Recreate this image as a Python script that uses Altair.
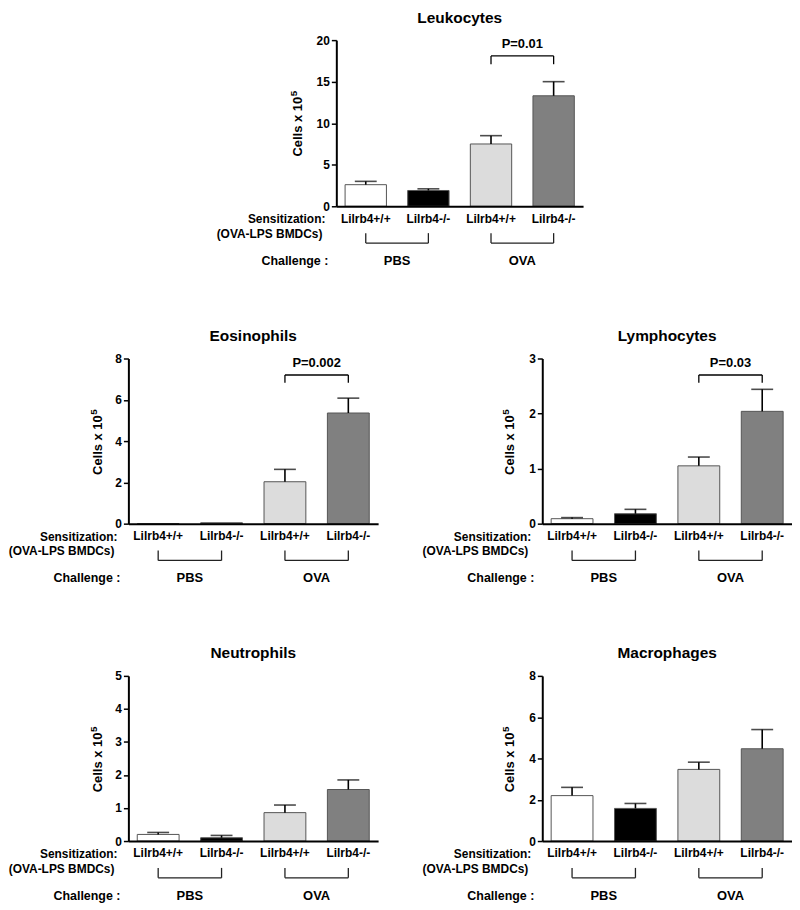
import altair as alt
import pandas as pd

FONT = "Liberation Sans"

# ---- data ----
challenges = ["PBS", "PBS", "OVA", "OVA"]
genotypes = ["Lilrb4+/+", "Lilrb4-/-", "Lilrb4+/+", "Lilrb4-/-"]
groups = [c + " " + g for c, g in zip(challenges, genotypes)]
fills = ["#ffffff", "#000000", "#dcdcdc", "#808080"]
challenge_names = ["PBS", "OVA"]

leuk_mean = [2.6, 1.9, 7.5, 13.3]
leuk_sem = [0.4, 0.2, 1.0, 1.7]
eos_mean = [0.0, 0.04, 2.03, 5.36]
eos_sem = [0.0, 0.0, 0.6, 0.72]
lym_mean = [0.09, 0.18, 1.05, 2.04]
lym_sem = [0.02, 0.08, 0.16, 0.40]
neu_mean = [0.20, 0.10, 0.86, 1.56]
neu_sem = [0.06, 0.07, 0.23, 0.29]
mac_mean = [2.2, 1.58, 3.47, 4.47]
mac_sem = [0.4, 0.24, 0.35, 0.93]

leuk_ticks = [0, 5, 10, 15, 20]
eos_ticks = [0, 2, 4, 6, 8]
lym_ticks = [0, 1, 2, 3]
neu_ticks = [0, 1, 2, 3, 4, 5]
mac_ticks = [0, 2, 4, 6, 8]

# significance brackets: (bracket level, tick bottom, label)
leuk_sig = (18.1, 17.1, "P=0.01")
eos_sig = (7.2, 6.83, "P=0.002")
lym_sig = (2.7, 2.56, "P=0.03")


def panel(title, means, sems, ticks, width, height, ytitle_x, sig=None):
    n = len(groups)
    p_in, p_out = 0.34, 0.14
    step = width / (n - p_in + 2 * p_out)
    df = pd.DataFrame({"group": groups, "mean": means, "sem": sems, "fill": fills})
    df["top"] = df["mean"] + df["sem"]

    xscale = alt.Scale(domain=groups, paddingInner=p_in, paddingOuter=p_out)
    xaxis = alt.Axis(title=None, labelExpr="substring(datum.label, 4)", ticks=False,
                     domainWidth=2, domainColor="black", labelAngle=0, labelFont=FONT,
                     labelFontSize=12, labelFontWeight="bold", labelColor="black",
                     labelPadding=7, zindex=1)
    yscale = alt.Scale(domain=[ticks[0], ticks[-1]], nice=False)
    yaxis = alt.Axis(title=None, values=ticks, tickSize=5, tickWidth=1.5, tickColor="black",
                     domainWidth=2, domainColor="black", labelFont=FONT, labelFontSize=12,
                     labelFontWeight="bold", labelColor="black", labelPadding=2, grid=False,
                     zindex=1)

    def X(f):
        return alt.X(f, scale=xscale, axis=xaxis)

    def Y(f):
        return alt.Y(f, scale=yscale, axis=yaxis)

    base = alt.Chart(df)
    bars = base.mark_bar(stroke="#555555", strokeWidth=1).encode(
        x=X("group:N"), y=Y("mean:Q"), fill=alt.Fill("fill:N", scale=None))
    err = base.transform_filter("datum.sem > 0").mark_rule(color="black", strokeWidth=1.6).encode(
        x=X("group:N"), y=Y("mean:Q"), y2="top:Q")
    cap = base.transform_filter("datum.sem > 0").mark_tick(color="black", thickness=1.6, size=22).encode(
        x=X("group:N"), y=Y("top:Q"))

    layers = [bars, err, cap]

    one = pd.DataFrame({"k": [0]})
    layers.append(alt.Chart(one).mark_text(text="Sensitization:", align="right", baseline="middle",
                                          font=FONT, fontSize=12, fontWeight="bold", color="black")
                  .encode(x=alt.value(-11), y=alt.value(height + 13)))
    layers.append(alt.Chart(one).mark_text(text="(OVA-LPS BMDCs)", align="right", baseline="middle",
                                          font=FONT, fontSize=12, fontWeight="bold", color="black")
                  .encode(x=alt.value(-14), y=alt.value(height + 28)))
    layers.append(alt.Chart(one).mark_text(text="Challenge :", align="right", baseline="middle",
                                          font=FONT, fontSize=12.5, fontWeight="bold", color="black")
                  .encode(x=alt.value(-8), y=alt.value(height + 55)))

    ch_df = pd.DataFrame({"label": challenge_names, "start": [groups[0], groups[2]],
                          "end": [groups[1], groups[3]]})
    ends_df = pd.DataFrame({"g": groups})
    layers.append(alt.Chart(ch_df).mark_rule(color="#222222", strokeWidth=1.3).encode(
        x=X("start:N"), x2="end:N", y=alt.value(height + 37)))
    layers.append(alt.Chart(ends_df).mark_rule(color="#222222", strokeWidth=1.3).encode(
        x=X("g:N"), y=alt.value(height + 27), y2=alt.value(height + 37)))
    layers.append(alt.Chart(ch_df).mark_text(dx=step / 2, baseline="middle", font=FONT, fontSize=13,
                                            fontWeight="bold", color="black").encode(
        x=X("start:N"), y=alt.value(height + 55), text="label:N"))

    # y title with superscript
    layers.append(alt.Chart(one).mark_text(text="Cells x 10", angle=270, align="left", baseline="middle",
                                          font=FONT, fontSize=13, fontWeight="bold", color="black")
                  .encode(x=alt.value(ytitle_x), y=alt.value(117)))
    layers.append(alt.Chart(one).mark_text(text="5", angle=270, align="left", baseline="middle",
                                          dx=60.5, dy=-4, font=FONT, fontSize=10, fontWeight="bold",
                                          color="black")
                  .encode(x=alt.value(ytitle_x), y=alt.value(117)))

    if sig is not None:
        lvl, low, lab = sig
        sdf = pd.DataFrame({"start": [groups[2]], "end": [groups[3]], "y": [lvl], "label": [lab]})
        sends = pd.DataFrame({"g": [groups[2], groups[3]], "y": [lvl, lvl], "low": [low, low]})
        layers.append(alt.Chart(sdf).mark_rule(color="black", strokeWidth=1.3).encode(
            x=X("start:N"), x2="end:N", y=Y("y:Q")))
        layers.append(alt.Chart(sends).mark_rule(color="black", strokeWidth=1.3).encode(
            x=X("g:N"), y=Y("y:Q"), y2="low:Q"))
        layers.append(alt.Chart(sdf).mark_text(dx=step / 2, dy=-12, baseline="middle", font=FONT,
                                              fontSize=13, fontWeight="bold", color="black").encode(
            x=X("start:N"), y=Y("y:Q"), text="label:N"))

    return alt.layer(*layers).properties(
        width=width, height=height,
        title=alt.TitleParams(title, font=FONT, fontSize=15.5, fontWeight="bold", color="black",
                              offset=8, anchor="middle"))


leuk = panel("Leukocytes", leuk_mean, leuk_sem, leuk_ticks, 248, 167, -39, leuk_sig)
eos = panel("Eosinophils", eos_mean, eos_sem, eos_ticks, 251, 166, -31, eos_sig)
lym = panel("Lymphocytes", lym_mean, lym_sem, lym_ticks, 251, 166, -32, lym_sig)
neu = panel("Neutrophils", neu_mean, neu_sem, neu_ticks, 251, 166, -31)
mac = panel("Macrophages", mac_mean, mac_sem, mac_ticks, 251, 166, -32)

# invisible spacer that shifts the single top panel to the centre
spacer = alt.Chart(pd.DataFrame({"k": [0]})).mark_rule(strokeOpacity=0).encode(
    x=alt.value(0), y=alt.value(0), y2=alt.value(1)).properties(width=88, height=10)

row1 = alt.hconcat(spacer, leuk, spacing=0)
row2 = alt.hconcat(eos, lym, spacing=44)
row3 = alt.hconcat(neu, mac, spacing=44)

chart = alt.vconcat(row1, row2, row3, spacing=61).properties(padding=0)
chart = chart.configure(font=FONT).configure_view(strokeWidth=0)

chart.save("out.html", embed_options={"renderer": "svg", "actions": False})
